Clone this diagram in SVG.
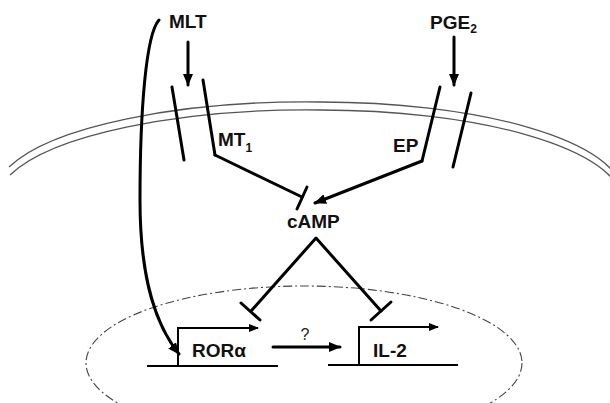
<svg xmlns="http://www.w3.org/2000/svg" width="610" height="403" viewBox="0 0 610 403">
  <style>
    .lbl { font-family: "Liberation Sans", Arial, sans-serif; font-weight: bold; font-size: 19px; fill: #111; }
    .sub { font-size: 12px; }
    .q { font-family: "Liberation Sans", Arial, sans-serif; font-size: 16px; fill: #222; }
    .mem { fill: none; stroke: #555; stroke-width: 1.3; }
    .nuc { fill: none; stroke: #444; stroke-width: 1.1; stroke-dasharray: 9 3 2 3; }
    .thick { fill: none; stroke: #000; stroke-width: 3; stroke-linecap: round; stroke-linejoin: round; }
    .gene { fill: none; stroke: #000; stroke-width: 2; }
  </style>
  <defs>
    <marker id="arrow" markerUnits="userSpaceOnUse" markerWidth="12" markerHeight="10" viewBox="0 0 12 10" refX="11" refY="5" orient="auto">
      <path d="M0,0 L12,5 L0,10 Z" fill="#000"/>
    </marker>
    <marker id="arrowSm" markerUnits="userSpaceOnUse" markerWidth="10" markerHeight="8" viewBox="0 0 10 8" refX="9" refY="4" orient="auto">
      <path d="M0,0 L10,4 L0,8 Z" fill="#000"/>
    </marker>
  </defs>

  <!-- cell membrane (double line) -->
  <g id="membrane">
    <path class="mem" d="M9,167 A311,92 0 0 1 320,102 A302,92 0 0 1 622,190"/>
    <path class="mem" d="M10,175 A311,92 0 0 1 320,110 A302,92 0 0 1 622,198"/>
  </g>

  <!-- nucleus -->
  <g id="nucleus">
    <ellipse class="nuc" cx="304" cy="363" rx="218" ry="77"/>
  </g>

  <!-- ligands -->
  <g id="MLT">
    <text class="lbl" x="169" y="28">MLT</text>
  </g>
  <g id="PGE2">
    <text class="lbl" x="430" y="29">PGE<tspan class="sub" dy="4">2</tspan></text>
  </g>

  <!-- receptors -->
  <g id="MT1">
    <line class="thick" x1="172" y1="87" x2="184" y2="160"/>
    <line class="thick" x1="203" y1="80" x2="215" y2="155"/>
    <text class="lbl" x="218" y="146">MT<tspan class="sub" dy="6">1</tspan></text>
  </g>
  <g id="EP">
    <line class="thick" x1="440" y1="87" x2="422" y2="161"/>
    <line class="thick" x1="471" y1="93" x2="453" y2="167"/>
    <text class="lbl" x="393" y="152">EP</text>
  </g>

  <g id="cAMP">
    <text class="lbl" x="287" y="228">cAMP</text>
  </g>

  <!-- genes -->
  <g id="RORa">
    <line class="gene" x1="147" y1="366" x2="278" y2="366"/>
    <path class="gene" d="M178,366 V328 H258" marker-end="url(#arrowSm)"/>
    <text class="lbl" x="192" y="357">RORα</text>
  </g>
  <g id="IL2">
    <line class="gene" x1="328" y1="365" x2="458" y2="365"/>
    <path class="gene" d="M359,365 V327 H438" marker-end="url(#arrowSm)"/>
    <text class="lbl" x="373" y="357">IL-2</text>
  </g>

  <!-- connectors -->
  <g id="connectors">
    <!-- ligand binding arrows -->
    <line class="thick" x1="188" y1="42" x2="188" y2="85" marker-end="url(#arrow)"/>
    <line class="thick" x1="454" y1="37" x2="454" y2="85" marker-end="url(#arrow)"/>
    <!-- MT1 inhibits cAMP -->
    <line class="thick" x1="215" y1="155" x2="302" y2="197"/>
    <line class="thick" x1="297" y1="209" x2="307" y2="187"/>
    <!-- EP activates cAMP -->
    <line class="thick" x1="422" y1="161" x2="315" y2="203" marker-end="url(#arrow)"/>
    <!-- cAMP inhibits both genes -->
    <path class="thick" d="M251,311 L316,238 L381,311"/>
    <line class="thick" x1="241" y1="303" x2="260" y2="320"/>
    <line class="thick" x1="371" y1="320" x2="391" y2="302"/>
    <!-- MLT acts directly on RORα -->
    <path class="thick" d="M159,20 C146,34 140,110 140,200 C140,285 158,328 179,354" marker-end="url(#arrow)"/>
    <!-- RORα to IL-2 -->
    <line class="thick" x1="273" y1="347" x2="340" y2="347" marker-end="url(#arrow)"/>
    <text class="q" x="305" y="340" text-anchor="middle">?</text>
  </g>
</svg>
